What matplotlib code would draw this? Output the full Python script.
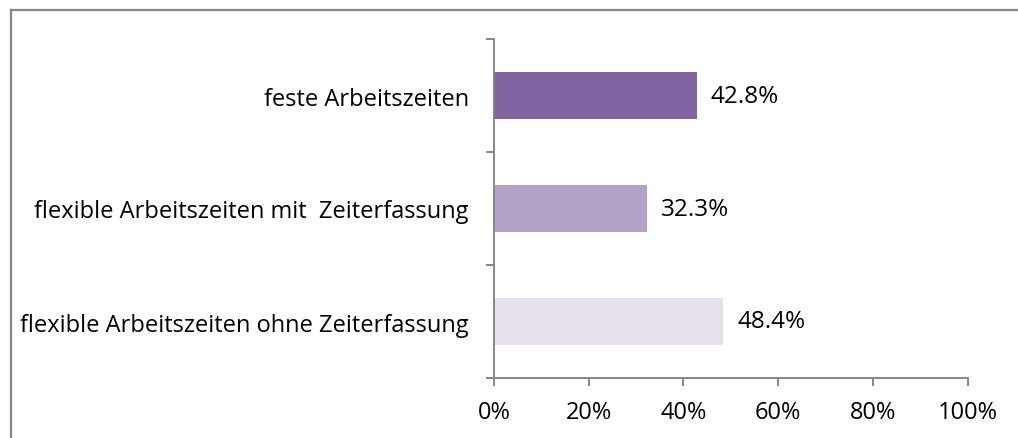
import matplotlib.pyplot as plt
from matplotlib.lines import Line2D
from matplotlib.ticker import FixedLocator, PercentFormatter

plt.rcParams['font.family'] = ['Open Sans', 'DejaVu Sans']

# bottom to top
categories = ['flexible Arbeitszeiten ohne Zeiterfassung',
              'flexible Arbeitszeiten mit  Zeiterfassung',
              'feste Arbeitszeiten']
values = [48.4, 32.3, 42.8]
colors = ['#E6E0EC', '#B3A2C7', '#8064A2']
x_ticks = [0, 20, 40, 60, 80, 100]

fig = plt.figure(figsize=(10.18, 4.39), dpi=100)
ax = fig.add_axes([494 / 1018, 1 - 379 / 439, 473.5 / 1018, 339 / 439])

y = range(len(categories))
ax.barh(y, values, height=0.41, color=colors)
for yi, v in zip(y, values):
    ax.text(v + 3.0, yi, f'{v:.1f}%', va='center', ha='left', fontsize=17.5)

ax.set_xlim(0, 100)
ax.set_ylim(-0.5, len(categories) - 0.5)
ax.set_xticks(x_ticks)
ax.xaxis.set_major_formatter(PercentFormatter(decimals=0))
ax.set_yticks(list(y))
ax.set_yticklabels(categories)
ax.yaxis.set_minor_locator(FixedLocator([-0.5, 0.5, 1.5, 2.5]))

for s in ['top', 'right']:
    ax.spines[s].set_visible(False)
for s in ['left', 'bottom']:
    ax.spines[s].set_color('#868686')
    ax.spines[s].set_linewidth(1.4)

ax.tick_params(axis='y', which='major', length=0, pad=18, labelsize=17)
ax.tick_params(axis='y', which='minor', length=5.5, width=1.4, color='#868686', direction='out')
ax.tick_params(axis='x', length=5.5, width=1.4, color='#868686', direction='out', pad=10.5, labelsize=17)

# chart area border (top and left edges visible)
bx, by = 10.5 / 1018, 1 - 10.5 / 439
fig.add_artist(Line2D([bx, 1], [by, by], transform=fig.transFigure, color='#868686', lw=1.6))
fig.add_artist(Line2D([bx, bx], [0, by], transform=fig.transFigure, color='#868686', lw=1.6))

fig.savefig('out.png', dpi=100)
